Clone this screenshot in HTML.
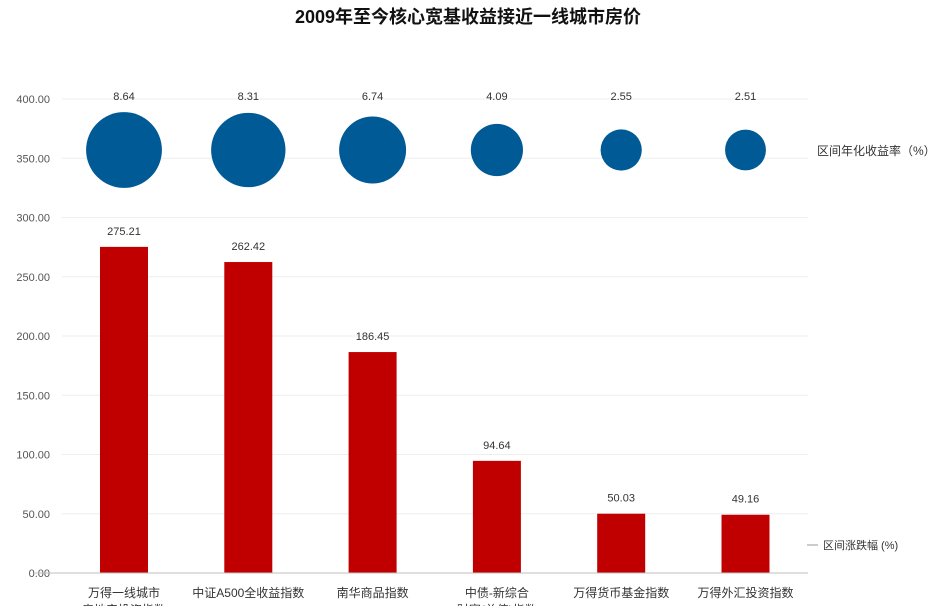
<!DOCTYPE html>
<html><head><meta charset="utf-8"><style>
body{margin:0;background:#fff;}
svg text{font-family:"Liberation Sans","Noto Sans CJK SC",sans-serif;}
</style></head><body>
<svg width="936" height="606" xmlns="http://www.w3.org/2000/svg">
<text x="468" y="23" text-anchor="middle" font-size="18" font-weight="bold" fill="#111">2009年至今核心宽基收益接近一线城市房价</text>
<g id="grid"></g><g id="bars"></g><g id="bubbles"></g><g id="labels"></g>
<line x1="35" y1="573" x2="808" y2="573" stroke="#bfbfbf"/>
<text x="817" y="155" font-size="12" fill="#333">区间年化收益率（%）</text>
<line x1="807" y1="545" x2="818" y2="545" stroke="#999"/>
<text x="823" y="549" font-size="11" fill="#333">区间涨跌幅 (%)</text>
<script>
const categories=["万得一线城市|房地产投资指数","中证A500全收益指数","南华商品指数","中债-新综合|财富(总值)指数","万得货币基金指数","万得外汇投资指数"];
const changeValues=[275.21,262.42,186.45,94.64,50.03,49.16];
const annualValues=[8.64,8.31,6.74,4.09,2.55,2.51];
const yTicks=[0,50,100,150,200,250,300,350,400];
const NS="http://www.w3.org/2000/svg";
const y0=573,pxPer=(573-99)/400;
function yScale(v){return y0-v*pxPer;}
function xScale(i){return 124+i*124.3;}
function rScale(v){return 12.9*Math.sqrt(v);}
function mk(t,a,p){const e=document.createElementNS(NS,t);for(const k in a)e.setAttribute(k,a[k]);document.getElementById(p).appendChild(e);return e;}
yTicks.forEach(v=>{
 if(v>0){const l=mk('line',{x1:62,x2:808,y1:yScale(v),y2:yScale(v),stroke:'#eeeeee'},'grid');
 
 }
 const t=mk('text',{x:50,y:yScale(v)+4,'text-anchor':'end','font-size':11,fill:'#555'},'grid');
 t.textContent=v.toFixed(2);
 
 
});
changeValues.forEach((v,i)=>{
 const b=mk('rect',{x:xScale(i)-24,y:yScale(v),width:48,height:y0-yScale(v),fill:'#c00000'},'bars');
 
 
 const t=mk('text',{x:xScale(i),y:yScale(v)-12,'text-anchor':'middle','font-size':11,fill:'#333'},'labels');
 t.textContent=v.toFixed(2);
 
 
});
annualValues.forEach((v,i)=>{
 const c=mk('circle',{cx:xScale(i),cy:150,r:rScale(v),fill:'#005a96'},'bubbles');
 
 
 const t=mk('text',{x:xScale(i),y:100,'text-anchor':'middle','font-size':11,fill:'#333'},'labels');
 t.textContent=v.toFixed(2);
 
 
});
categories.forEach((c,i)=>{
 c.split('|').forEach((s,j)=>{
  const t=mk('text',{x:xScale(i),y:597+j*17,'text-anchor':'middle','font-size':12,fill:'#333'},'labels');
  t.textContent=s;
  
  
 });
});
</script>
</svg>
</body></html>
